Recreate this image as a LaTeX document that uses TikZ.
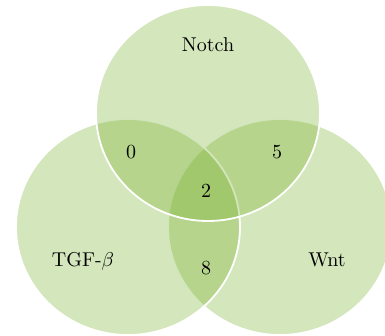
\documentclass[tikz,border=0pt]{standalone}
\usepackage{amsmath}
\usepackage{tikz}
\usetikzlibrary{shapes.geometric,positioning}
\definecolor{venngreen}{RGB}{112,172,32}
\begin{document}
\begin{tikzpicture}[x=0.5pt,y=0.5pt,
	set/.style={ellipse,draw=white,line width=0.9pt,fill=venngreen,fill opacity=0.3,text opacity=1,inner sep=0pt,minimum width=112pt,minimum height=108pt},
	lbl/.style={font=\normalsize,text=black}]
	\useasboundingbox (0,0) rectangle (385,336);
	% the three sets, Wnt at the bottom, Notch on top
	\path   (280,109) 	node 	(wnt) [set] {}
	        (128,109) 	node 	(tgf) [set] {}
	        (208,223) 	node 	(notch) [set] {};
	% names
	\node (lnotch) [lbl] at (208,291) {Notch};
	\node (ltgf) [lbl] at (83,75) {TGF-$\beta$};
	\node (lwnt) [lbl] at (327,76) {Wnt};
	% counts
	\node (nnt) [lbl] at (131,184) {0};
	\node (nnw) [lbl] at (277,184) {5};
	\node (nall) [lbl] at (206,145) {2};
	\node (ntw) [lbl] at (206,68) {8};
\end{tikzpicture}
\end{document}
